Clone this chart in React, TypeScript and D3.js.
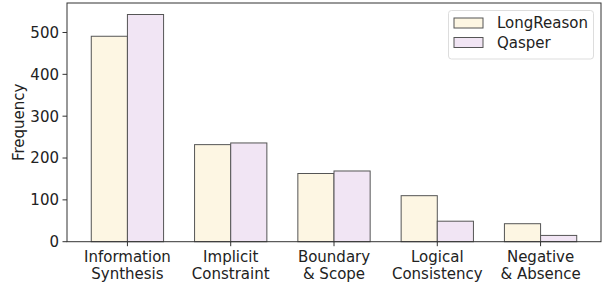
import React from "react";
import * as d3 from "d3";

const categories = [["Information", "Synthesis"], ["Implicit", "Constraint"], ["Boundary", "& Scope"], ["Logical", "Consistency"], ["Negative", "& Absence"]];
const seriesNames = ["LongReason", "Qasper"];
const longReason = [491, 232, 163, 110, 43];
const qasper = [543, 236, 169, 49, 15];
const yTicks = [0, 100, 200, 300, 400, 500];
const colors = ["#fdf6e3", "#f1e5f4"];

export default function App() {
  const W = 609, H = 287;
  const left = 67, right = 601, top = 3, bottom = 241.7;
  const x = d3.scaleLinear().domain([-0.585, 4.585]).range([left, right]);
  const y = d3.scaleLinear().domain([0, 570.5]).range([bottom, top]);
  const bw = 0.35;
  const font = "DejaVu Sans, sans-serif";
  const fs = 15;
  const series = [longReason, qasper];
  return (
    <svg width={W} height={H} style={{ position: "absolute", left: 0, top: 0 }} fontFamily={font}>
      <rect x={0} y={0} width={W} height={H} fill="white" />
      {series.map((vals, s) =>
        vals.map((v, i) => {
          const x0 = x(i - bw + s * bw);
          const x1 = x(i + s * bw);
          return (
            <rect key={`${s}-${i}`} x={x0} y={y(v)} width={x1 - x0} height={y(0) - y(v)}
              fill={colors[s]} stroke="#555" strokeWidth={1} />
          );
        })
      )}
      <rect x={left} y={top} width={right - left} height={bottom - top} fill="none" stroke="#333" strokeWidth={1} />
      {yTicks.map((t) => (
        <g key={t}>
          <line x1={left - 4.5} x2={left} y1={y(t)} y2={y(t)} stroke="#333" />
          <text x={left - 8} y={y(t)} dy="0.36em" textAnchor="end" fontSize={fs} fill="#222">{t}</text>
        </g>
      ))}
      {categories.map((c, i) => (
        <g key={i}>
          <line x1={x(i)} x2={x(i)} y1={bottom} y2={bottom + 4.5} stroke="#333" />
          {c.map((line, k) => (
            <text key={k} x={x(i)} y={bottom + 20 + k * 17} textAnchor="middle" fontSize={fs} fill="#222">{line}</text>
          ))}
        </g>
      ))}
      <text transform={`translate(24,${(top + bottom) / 2}) rotate(-90)`} textAnchor="middle" fontSize={fs} fill="#222">Frequency</text>
      <rect x={448.5} y={10.5} width={145} height={48.5} rx={3} fill="white" stroke="#ddd" />
      {seriesNames.map((n, s) => (
        <g key={n}>
          <rect x={454} y={18 + s * 19.5} width={29} height={10} fill={colors[s]} stroke="#555" />
          <text x={497} y={23 + s * 19.5} dy="0.36em" fontSize={fs} fill="#222">{n}</text>
        </g>
      ))}
    </svg>
  );
}
